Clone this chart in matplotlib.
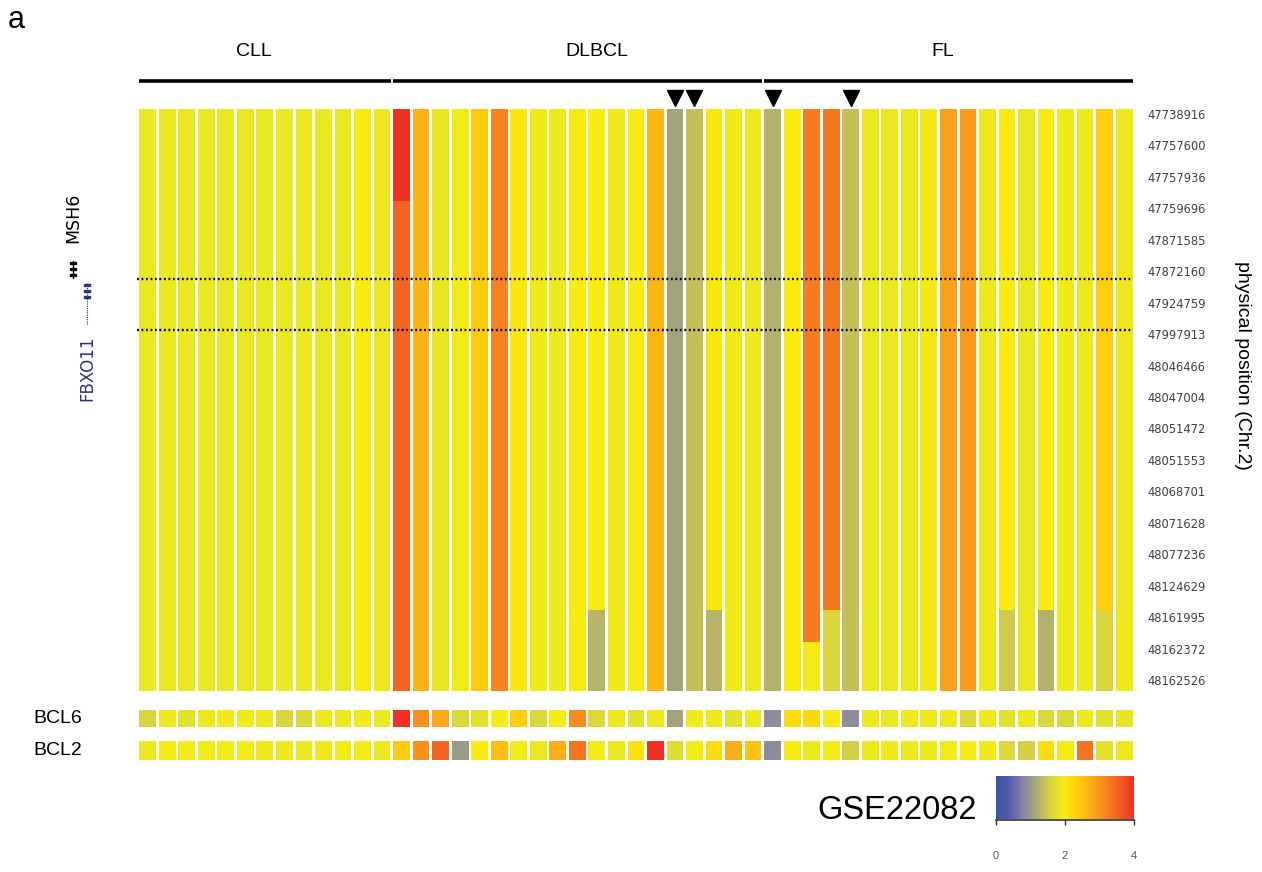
import numpy as np
import matplotlib
matplotlib.use('Agg')
import matplotlib.pyplot as plt
from matplotlib.colors import LinearSegmentedColormap, Normalize
from matplotlib.cm import ScalarMappable
from matplotlib.lines import Line2D
from matplotlib.patches import Rectangle

# ---------------- data ----------------
positions = ['47738916', '47757600', '47757936', '47759696', '47871585',
             '47872160', '47924759', '47997913', '48046466', '48047004',
             '48051472', '48051553', '48068701', '48071628', '48077236',
             '48124629', '48161995', '48162372', '48162526']
groups = ['CLL', 'DLBCL', 'FL']
group_sizes = [13, 19, 19]

# value of each sample above its break row, below it, and the break row
upper_vals = [1.85, 1.85, 1.85, 1.85, 1.85, 1.85, 1.85, 1.85, 1.85, 1.85, 1.85, 2.0, 1.87,
              4.0, 2.7, 1.83, 1.95, 2.4, 3.2, 2.05, 1.93, 1.9, 2.0, 2.0, 1.93, 1.97, 2.65,
              1.12, 1.38, 2.05, 1.93, 1.88,
              1.26, 2.0, 3.25, 3.3, 1.38, 1.86, 1.87, 1.86, 1.93, 2.9, 2.95, 1.87, 2.0,
              1.86, 2.0, 1.92, 1.9, 2.35, 1.9]
lower_vals = [1.85, 1.85, 1.85, 1.85, 1.85, 1.85, 1.85, 1.85, 1.85, 1.85, 1.85, 2.0, 1.87,
              3.5, 2.7, 1.83, 1.95, 2.4, 3.2, 2.05, 1.93, 1.9, 2.0, 1.28, 1.93, 1.97, 2.65,
              1.12, 1.38, 1.28, 1.93, 1.88,
              1.26, 2.0, 1.95, 1.62, 1.38, 1.86, 1.87, 1.86, 1.93, 2.9, 2.95, 1.87, 1.47,
              1.86, 1.25, 1.92, 1.9, 1.62, 1.9]
break_row = [19, 19, 19, 19, 19, 19, 19, 19, 19, 19, 19, 19, 19,
             3, 19, 19, 19, 19, 19, 19, 19, 19, 19, 16, 19, 19, 19,
             19, 19, 16, 19, 19,
             19, 19, 17, 16, 19, 19, 19, 19, 19, 19, 19, 19, 16,
             19, 16, 19, 19, 16, 19]

bcl6_vals = [1.6, 1.9, 1.75, 1.9, 1.93, 1.92, 1.9, 1.6, 1.63, 1.88, 1.88, 1.93, 1.9,
             4.0, 3.05, 2.8, 1.65, 1.75, 2.0, 2.35, 1.64, 1.94, 3.1, 1.65, 1.9, 1.75, 1.88,
             1.12, 1.93, 1.9, 1.75, 1.88,
             0.85, 2.15, 2.2, 2.0, 0.87, 1.9, 1.85, 1.88, 1.9, 1.9, 1.65, 1.9, 1.75,
             1.9, 1.65, 1.65, 1.9, 1.75, 1.8]
bcl2_vals = [1.87, 1.94, 1.94, 1.94, 1.95, 1.95, 1.92, 1.9, 1.9, 1.92, 1.94, 1.95, 1.88,
             2.4, 3.05, 3.5, 1.0, 2.03, 2.55, 1.94, 1.86, 2.75, 3.35, 1.94, 1.87, 2.1, 4.0,
             1.7, 1.94, 2.15, 2.75, 2.5,
             0.85, 1.96, 1.9, 1.95, 1.55, 1.9, 1.92, 1.9, 1.92, 1.95, 1.94, 1.92, 1.65,
             1.55, 2.15, 1.94, 3.35, 1.75, 1.87]
marked_samples = [27, 28, 32, 36]
gene_bounds = [5.25, 6.87]          # dotted lines (in position-row units)
cbar_ticks = [0, 2, 4]

# ---------------- colour scale ----------------
anchors = [(0.0, '#3b55a5'), (0.35, '#4e5aa8'), (0.6, '#7070ae'), (0.85, '#8e8c9c'),
           (1.0, '#9a9a88'), (1.12, '#a4a47a'), (1.28, '#b8b468'), (1.45, '#ccc84c'),
           (1.65, '#dcd838'), (1.85, '#eae820'), (2.0, '#f8ec10'), (2.2, '#fed80a'),
           (2.45, '#fdc80c'), (2.8, '#fbaa18'), (3.2, '#f7821f'), (3.5, '#f26522'),
           (4.0, '#ee3124')]
cmap = LinearSegmentedColormap.from_list('gse', [(v / 4.0, c) for v, c in anchors])
norm = Normalize(0, 4)

n_rows = len(positions)
n_cols = len(upper_vals)
mat = np.empty((n_rows, n_cols))
for j in range(n_cols):
    for i in range(n_rows):
        mat[i, j] = upper_vals[j] if i < break_row[j] else lower_vals[j]

# x edges: each sample cell plus a masked gap
half = 0.43
xe = []
for j in range(n_cols):
    xe += [j - half, j + half]
xe = np.array(xe)


def expand(arr2d):
    out = np.ma.masked_all((arr2d.shape[0], 2 * n_cols - 1))
    out[:, 0::2] = arr2d
    return out


# ---------------- figure ----------------
W, H = 1262, 872
fig = plt.figure(figsize=(W / 100, H / 100), dpi=100)
plt.rcParams['font.family'] = ['Liberation Sans', 'DejaVu Sans']


def box(x0, y0, x1, y1):
    return [x0 / W, 1 - y1 / H, (x1 - x0) / W, (y1 - y0) / H]


AX_L, AX_R = 137.9, 1133.9
ax = fig.add_axes(box(AX_L, 109, AX_R, 691))
y_top, y_bot = -0.16, 18.35
ye = np.array([y_top] + [i - 0.22 for i in range(1, n_rows)] + [y_bot])
ax.pcolormesh(xe, ye, expand(mat), cmap=cmap, norm=norm, shading='flat')
ax.set_xlim(-0.5, n_cols - 0.5)
ax.set_ylim(y_bot, y_top)
for s in ax.spines.values():
    s.set_visible(False)
ax.set_xticks([])
ax.yaxis.tick_right()
ax.set_yticks(range(n_rows))
ax.set_yticklabels(positions, family='DejaVu Sans', fontsize=8.3, color='#404040')
ax.tick_params(axis='y', length=0, pad=9.5)
for gb in gene_bounds:
    ax.plot([-0.55, n_cols - 0.55], [gb, gb], color='black', lw=1.7,
            ls=(0, (0.8, 1.1)), clip_on=False)
fig.text(1243 / W, 1 - 365 / H, 'physical position (Chr.2)', rotation=270,
         ha='center', va='center', fontsize=14)

# BCL6 / BCL2 rows
for vals, (y0, y1), name in [(bcl6_vals, (710, 727), 'BCL6'), (bcl2_vals, (741, 760), 'BCL2')]:
    a2 = fig.add_axes(box(AX_L, y0, AX_R, y1))
    a2.pcolormesh(xe, [0, 1], expand(np.array([vals])), cmap=cmap, norm=norm, shading='flat')
    a2.set_xlim(-0.5, n_cols - 0.5)
    a2.set_ylim(0, 1)
    a2.axis('off')
    fig.text(33 / W, 1 - (y0 + y1) / 2 / H, name, ha='left', va='center', fontsize=14)

# header: group bars, labels, arrows
hx = fig.add_axes(box(AX_L, 30, AX_R, 108))
hx.set_xlim(-0.5, n_cols - 0.5)
hx.set_ylim(0, 1)
hx.axis('off')
label_x = [5.45, 23.0, 40.7]
start = 0
for g, n, lx in zip(groups, group_sizes, label_x):
    hx.plot([start - 0.45, start + n - 1 + 0.45], [0.346, 0.346], color='black',
            lw=2.6, solid_capstyle='butt')
    hx.text(lx, 0.72, g, ha='center', va='center', fontsize=14)
    start += n
hx.plot(marked_samples, [0.125] * len(marked_samples), 'v', color='black', ms=11.5,
        clip_on=False)

# colour bar
cax = fig.add_axes(box(996, 776, 1134, 819))
cb = fig.colorbar(ScalarMappable(norm=norm, cmap=cmap), cax=cax, orientation='horizontal')
cb.outline.set_visible(False)
cb.set_ticks(cbar_ticks)
cax.tick_params(axis='x', length=4, width=1, color='#333333', pad=19,
                labelsize=8, labelcolor='#555555', direction='out')
cax.add_line(Line2D([0, 1], [-0.03, -0.03], transform=cax.transAxes, color='#333333',
                    lw=1.2, clip_on=False))
fig.text(977 / W, 1 - 810 / H, 'GSE22082', ha='right', va='center', fontsize=23.5)

# panel letter
fig.text(8 / W, 1 - 20 / H, 'a', ha='left', va='center', fontsize=22)

# gene annotation on the left
fig.text(73 / W, 1 - 218 / H, 'MSH6', rotation=90, ha='center', va='center',
         fontsize=12.5, family='DejaVu Sans', color='black')
fig.text(87 / W, 1 - 368 / H, 'FBXO11', rotation=90, ha='center', va='center',
         fontsize=12, family='DejaVu Sans', color='#2e3192')
fig.add_artist(Line2D([73 / W, 73 / W], [1 - 261 / H, 1 - 278 / H], color='black', lw=1))
for yy in [263, 269, 275]:
    fig.add_artist(Rectangle(((73 - 3) / W, 1 - (yy + 1.2) / H), 6 / W, 2.4 / H,
                             color='black', transform=fig.transFigure))
fig.add_artist(Line2D([87 / W, 87 / W], [1 - 283 / H, 1 - 325 / H], color='#2e3192',
                      lw=0.8, ls=(0, (1, 1))))
for yy in [285, 291, 297]:
    fig.add_artist(Rectangle(((87 - 3) / W, 1 - (yy + 1.2) / H), 6 / W, 2.4 / H,
                             color='#2e3192', transform=fig.transFigure))

fig.savefig('out.png', dpi=100)
